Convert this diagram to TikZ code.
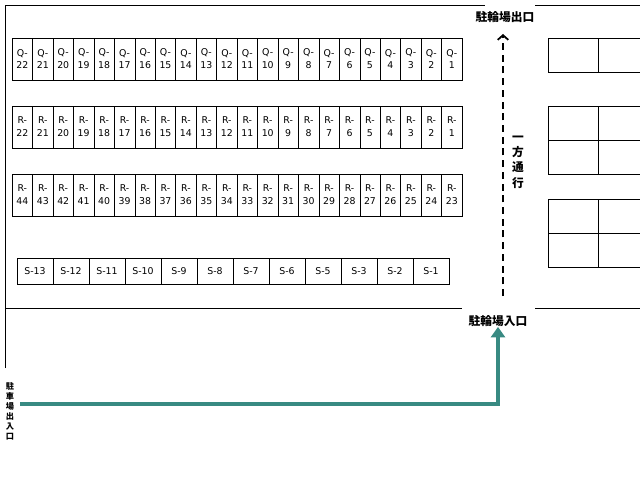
\documentclass[tikz,border=0pt]{standalone}
\usepackage{fontspec}
\setmainfont{DejaVu Sans}
\newfontfamily\jpfont{Noto Sans CJK JP}
\usetikzlibrary{positioning,arrows.meta}
\definecolor{teal}{RGB}{56,138,130}
\begin{document}
\begin{tikzpicture}[x=0.03cm,y=-0.03cm,
  every node/.style={inner sep=0pt},
  cell/.style={draw,minimum width=20.45*0.03cm,minimum height=42*0.03cm,font=\fontsize{8}{11}\selectfont,align=center},
  scell/.style={draw,minimum width=36*0.03cm,minimum height=26*0.03cm,font=\fontsize{8}{10}\selectfont},
  place/.style={draw,minimum width=50*0.03cm,minimum height=34*0.03cm},
  sign/.style={font=\jpfont\bfseries\fontsize{10}{12}\selectfont}]
  \useasboundingbox (0,0) rectangle (640,480);

  % outline
  \draw (5,368) -- (5,5) -- (485,5);
  \draw (535,5) -- (640,5);
  \draw (5,308) -- (462,308);
  \draw (535,308) -- (640,308);

  % rows Q and R
  \foreach \i in {1,...,22} {
    \node[cell] (q\i) at ({462-(\i-0.5)*20.45},59) {Q-\\\i};
    \node[cell] (r\i) at ({462-(\i-0.5)*20.45},127) {R-\\\i};
  }
  \foreach \i in {23,...,44} {
    \node[cell] (r\i) at ({462-(\i-22.5)*20.45},195) {R-\\\i};
  }
  % row S
  \foreach \i [count=\k] in {1,2,3,5,6,7,8,9,10,11,12,13} {
    \node[scell] (s\k) at ({449-(\k-0.5)*36},271) {S-\i};
  }

  % right side
  \node[place] (p1) at (573,55) {};
  \node[place,right=0pt of p1] (p2) {};
  \node[place] (p3) at (573,123) {};
  \node[place,right=0pt of p3] (p4) {};
  \node[place,below=0pt of p3] (p5) {};
  \node[place,below=0pt of p4] (p6) {};
  \node[place] (p7) at (573,216) {};
  \node[place,right=0pt of p7] (p8) {};
  \node[place,below=0pt of p7] (p9) {};
  \node[place,below=0pt of p8] (p10) {};

  % signs
  \node[sign] (exit) at (505,17) {駐輪場出口};
  \node[sign] (entry) at (498,321) {駐輪場入口};
  \node[sign,align=center,font=\jpfont\bfseries\fontsize{10}{13}\selectfont] (oneway) at (518,162) {一\\方\\通\\行};
  \node[font=\jpfont\bfseries\fontsize{7}{8.5}\selectfont,align=center] (gate) at (10,411) {駐\\車\\場\\出\\入\\口};

  % routes
  \coordinate (d0) at (503,296);
  \coordinate (d1) at (503,34);
  \draw[line width=2.5pt,dash pattern=on 6pt off 4pt,-{Straight Barb[length=4pt,width=9pt,line width=1.5pt]}] (d0) -- (d1);
  \coordinate (t0) at (20,404);
  \coordinate (t1) at (498,404);
  \draw[teal,line width=4pt,-{Triangle[length=9pt,width=12pt]}] (t0) -- (t1) -- (entry.south -| t1);
\end{tikzpicture}
\end{document}
